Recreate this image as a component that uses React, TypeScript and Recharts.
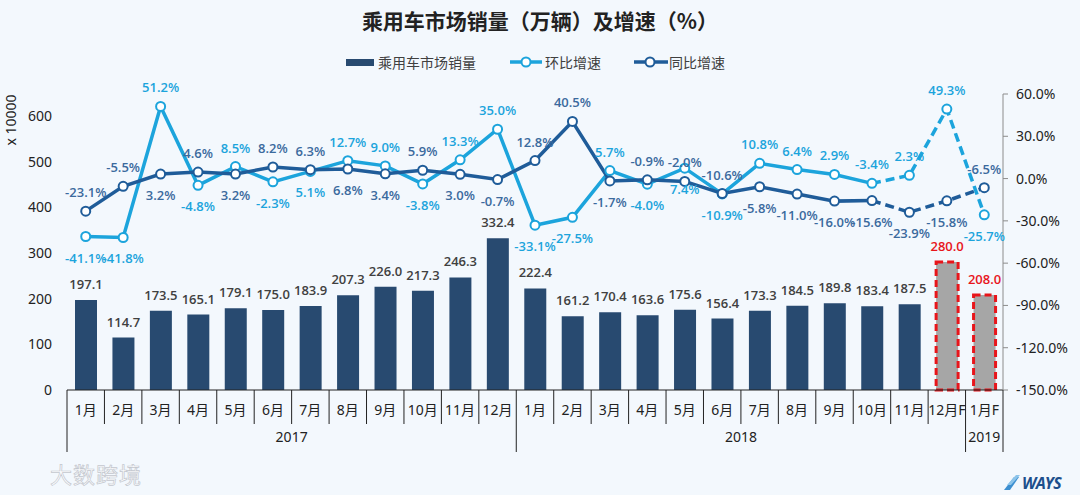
import React from 'react';
import { ComposedChart, Bar, Line, XAxis, YAxis, Cell, LabelList } from 'recharts';

// months along the axis; the last two are forecasts
const months = [
  '1月', '2月', '3月', '4月', '5月', '6月', '7月', '8月', '9月', '10月', '11月', '12月',
  '1月', '2月', '3月', '4月', '5月', '6月', '7月', '8月', '9月', '10月', '11月', '12月F', '1月F',
];
const yearGroups = [
  { year: '2017', count: 12 },
  { year: '2018', count: 12 },
  { year: '2019', count: 1 },
];

// 乘用车市场销量 (万辆)
const sales = [
  197.1, 114.7, 173.5, 165.1, 179.1, 175.0, 183.9, 207.3, 226.0, 217.3, 246.3, 332.4,
  222.4, 161.2, 170.4, 163.6, 175.6, 156.4, 173.3, 184.5, 189.8, 183.4, 187.5, 280.0, 208.0,
];
// 环比增速 (%)
const momGrowth = [
  -41.1, -41.8, 51.2, -4.8, 8.5, -2.3, 5.1, 12.7, 9.0, -3.8, 13.3, 35.0,
  -33.1, -27.5, 5.7, -4.0, 7.4, -10.9, 10.8, 6.4, 2.9, -3.4, 2.3, 49.3, -25.7,
];
// 同比增速 (%)
const yoyGrowth = [
  -23.1, -5.5, 3.2, 4.6, 3.2, 8.2, 6.3, 6.8, 3.4, 5.9, 3.0, -0.7,
  12.8, 40.5, -1.7, -0.9, -2.0, -10.6, -5.8, -11.0, -16.0, -15.6, -23.9, -15.8, -6.5,
];

const leftTicks = [0, 100, 200, 300, 400, 500, 600];
const rightTicks = [-150, -120, -90, -60, -30, 0, 30, 60];

const forecastFrom = 23; // first forecast bar
const dashFrom = 21; // lines go dashed after this point
const flippedLabels = [16]; // points where the labels sit the other way round

const BAR = '#284a70';
const FORECAST = '#a6a6a6';
const RED = '#e8151b';
const LIGHT = '#1ca4dc';
const DARK = '#1f5c99';
const DARK_LABEL = '#3b6a9d';
const FONT = "'Noto Sans', 'Noto Sans CJK SC', sans-serif";
const LABEL_FONT = "'Open Sans', 'Noto Sans', sans-serif";

const data = months.map((m, i) => ({
  month: m,
  sales: sales[i],
  momSolid: i <= dashFrom ? momGrowth[i] : null,
  momDash: i >= dashFrom ? momGrowth[i] : null,
  yoySolid: i <= dashFrom ? yoyGrowth[i] : null,
  yoyDash: i >= dashFrom ? yoyGrowth[i] : null,
}));

const growthLabel = (own: number[], other: number[], color: string, from: number, to: number) => (props: any) => {
  const { x, y, index } = props;
  if (index < from || index > to || x == null || y == null) return null;
  let above = own[index] > other[index];
  if (flippedLabels.includes(index)) above = !above;
  return (
    <text x={x} y={above ? y - 14 : y + 26} textAnchor="middle" fontSize={13} fontWeight={600}
      fill={color} fontFamily={LABEL_FONT}>
      {own[index].toFixed(1)}%
    </text>
  );
};

const dashDot = (color: string) => (props: any) => {
  const { cx, cy, index } = props;
  if (index <= dashFrom || cy == null) return <g key={index} />;
  return <circle key={index} cx={cx} cy={cy} r={4.5} fill="#fff" stroke={color} strokeWidth={2} />;
};

const barLabel = (props: any) => {
  const { x, y, width, index } = props;
  const forecast = index >= forecastFrom;
  return (
    <text x={x + width / 2} y={y - 11} textAnchor="middle" fontSize={13} fontFamily={LABEL_FONT}
      fill={forecast ? RED : '#404040'} fontWeight={600}>
      {sales[index].toFixed(1)}
    </text>
  );
};

const MonthTick = (props: any) => {
  const { x, y, payload } = props;
  const i = payload.index;
  const half = payload.offset || 18.72;
  let start = 0;
  let yearLabel = null;
  let groupEnd = false;
  for (const g of yearGroups) {
    if (i === start) {
      yearLabel = (
        <text x={x - half + g.count * half} y={y + 52} textAnchor="middle" fontSize={14} fill="#222" fontFamily={FONT}>
          {g.year}
        </text>
      );
    }
    if (i === start + g.count - 1) groupEnd = true;
    start += g.count;
  }
  return (
    <g>
      <text x={x} y={y + 25} textAnchor="middle" fontSize={14} fill="#222" fontFamily={FONT}>
        {payload.value}
      </text>
      {i === 0 && <line x1={x - half} x2={x - half} y1={y} y2={y + 62} stroke="#222" />}
      <line x1={x + half} x2={x + half} y1={y} y2={y + (groupEnd ? 62 : 34)} stroke="#222" />
      {yearLabel}
    </g>
  );
};

const LegendBox = () => (
  <div style={{ position: 'absolute', top: 52, left: 0, width: 1080, height: 20, fontSize: 14, color: '#404040' }}>
    <svg width={30} height={20} style={{ position: 'absolute', left: 346, top: 0 }}>
      <rect x={0} y={7} width={28} height={7} fill={BAR} />
    </svg>
    <span style={{ position: 'absolute', left: 378, top: 0 }}>乘用车市场销量</span>
    <svg width={34} height={20} style={{ position: 'absolute', left: 509, top: 0 }}>
      <line x1={1} x2={33} y1={10} y2={10} stroke={LIGHT} strokeWidth={3.5} />
      <circle cx={17} cy={10} r={4.5} fill="#fff" stroke={LIGHT} strokeWidth={2} />
    </svg>
    <span style={{ position: 'absolute', left: 545, top: 0 }}>环比增速</span>
    <svg width={36} height={20} style={{ position: 'absolute', left: 633, top: 0 }}>
      <line x1={1} x2={35} y1={10} y2={10} stroke={DARK} strokeWidth={3.5} />
      <circle cx={17} cy={10} r={4.5} fill="#fff" stroke={DARK} strokeWidth={2} />
    </svg>
    <span style={{ position: 'absolute', left: 669, top: 0 }}>同比增速</span>
  </div>
);

export default function App() {
  return (
    <div style={{ position: 'absolute', left: 0, top: 0, width: 1080, height: 495, background: '#f3f8fd', fontFamily: FONT, overflow: 'hidden' }}>
      <div style={{ position: 'absolute', top: 5, width: 1080, textAlign: 'center', fontSize: 21, fontWeight: 700, color: '#222', fontFamily: "'Noto Sans CJK SC', sans-serif" }}>
        乘用车市场销量（万辆）及增速（%）
      </div>
      <LegendBox />
      <div style={{ position: 'absolute', left: 10, top: 120, transform: 'translate(-50%, -50%) rotate(-90deg)', fontSize: 14, color: '#222', whiteSpace: 'nowrap' }}>
        x 10000
      </div>
      <ComposedChart width={1080} height={495} data={data} margin={{ top: 94, right: 0, bottom: 0, left: 0 }}>
        <XAxis dataKey="month" interval={0} height={105} tickSize={0} tickMargin={0} tickLine={false}
          axisLine={{ stroke: '#222' }} tick={<MonthTick />} />
        <YAxis yAxisId="left" width={67} domain={[0, 648]} ticks={leftTicks} axisLine={false} tickLine={false}
          tickSize={0} tickMargin={15} tick={{ fontSize: 14, fill: '#222' }} />
        <YAxis yAxisId="right" orientation="right" width={77} domain={[-150, 60]} ticks={rightTicks}
          axisLine={{ stroke: '#8c8c8c' }} tickLine={{ stroke: '#8c8c8c' }} tickSize={5} tickMargin={8}
          tickFormatter={(v: number) => `${v.toFixed(1)}%`} tick={{ fontSize: 14, fill: '#222' }} />
        <Bar yAxisId="left" dataKey="sales" barSize={22} isAnimationActive={false}>
          {data.map((d, i) => (
            i >= forecastFrom
              ? <Cell key={d.month + i} fill={FORECAST} stroke={RED} strokeWidth={3} strokeDasharray="7 4" />
              : <Cell key={d.month + i} fill={BAR} />
          ))}
          <LabelList dataKey="sales" content={barLabel} />
        </Bar>
        <Line yAxisId="right" dataKey="momSolid" stroke={LIGHT} strokeWidth={3.5} isAnimationActive={false}
          dot={{ r: 4.5, fill: '#fff', stroke: LIGHT, strokeWidth: 2 }} activeDot={false}>
          <LabelList dataKey="momSolid" content={growthLabel(momGrowth, yoyGrowth, LIGHT, 0, dashFrom)} />
        </Line>
        <Line yAxisId="right" dataKey="momDash" stroke={LIGHT} strokeWidth={3.5} strokeDasharray="9 5" isAnimationActive={false}
          dot={dashDot(LIGHT)} activeDot={false}>
          <LabelList dataKey="momDash" content={growthLabel(momGrowth, yoyGrowth, LIGHT, dashFrom + 1, months.length - 1)} />
        </Line>
        <Line yAxisId="right" dataKey="yoySolid" stroke={DARK} strokeWidth={3.5} isAnimationActive={false}
          dot={{ r: 4.5, fill: '#fff', stroke: DARK, strokeWidth: 2 }} activeDot={false}>
          <LabelList dataKey="yoySolid" content={growthLabel(yoyGrowth, momGrowth, DARK_LABEL, 0, dashFrom)} />
        </Line>
        <Line yAxisId="right" dataKey="yoyDash" stroke={DARK} strokeWidth={3.5} strokeDasharray="9 5" isAnimationActive={false}
          dot={dashDot(DARK)} activeDot={false}>
          <LabelList dataKey="yoyDash" content={growthLabel(yoyGrowth, momGrowth, DARK_LABEL, dashFrom + 1, months.length - 1)} />
        </Line>
      </ComposedChart>
      <div style={{ position: 'absolute', left: 50, top: 457, fontSize: 22, color: '#fdfdfe', WebkitTextStroke: '0.7px #c3c7ce', fontFamily: "'Noto Sans CJK SC', sans-serif", letterSpacing: 1 }}>
        大数跨境
      </div>
      <div style={{ position: 'absolute', left: 1002, top: 472, display: 'flex', alignItems: 'center' }}>
        <svg width={20} height={20}>
          <path d="M2 17 L12 4 L17 4 L8 17 Z" fill="#3c8fd0" />
          <path d="M5 12 L14 2 L18 2 L9 12 Z" fill="#8cc4ea" />
        </svg>
        <span style={{ fontSize: 16, fontWeight: 700, fontStyle: 'italic', color: '#1d4f8c', letterSpacing: -0.5 }}>WAYS</span>
      </div>
    </div>
  );
}
